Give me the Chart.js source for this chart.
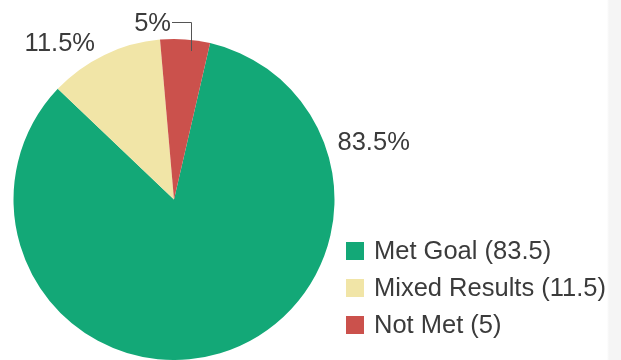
<!DOCTYPE html>
<html>
<head>
<meta charset="utf-8">
<script src="https://cdn.jsdelivr.net/npm/chart.js@4/dist/chart.umd.min.js"></script>
<style>
  html, body { margin: 0; padding: 0; background: #ffffff; }
  #wrap { position: relative; width: 621px; height: 360px; overflow: hidden;
          background: linear-gradient(to right, #ffffff 0, #ffffff 607px, #f5f5f5 609px, #f5f5f5 100%); }
  canvas { display: block; }
</style>
</head>
<body>
<div id="wrap"><canvas id="c" width="621" height="360"></canvas></div>
<script>
// Outcome shares (percent)
const categories = ['Met Goal', 'Mixed Results', 'Not Met'];
const shares = [83.5, 11.5, 5];
const sliceColors = ['#13a877', '#f1e5a7', '#cb514c'];
const valueLabels = ['83.5%', '11.5%', '5%'];

const FONT = '"Liberation Sans", Arial, Helvetica, sans-serif';
const TEXT = '#3b3b3b';

// Percentage labels placed outside each slice, plus a leader line for the small slice
const sliceLabels = {
  id: 'sliceLabels',
  afterDatasetsDraw(chart) {
    const ctx = chart.ctx;
    const arcs = chart.getDatasetMeta(0).data;
    ctx.save();
    ctx.font = '25.5px ' + FONT;
    ctx.fillStyle = TEXT;
    ctx.textBaseline = 'middle';
    arcs.forEach((arc, i) => {
      const p = arc.getProps(['x', 'y', 'outerRadius'], true);
      const r = p.outerRadius;
      if (i === 0) {
        ctx.textAlign = 'left';
        ctx.fillText(valueLabels[i], p.x + r + 3, p.y - 57);
      } else if (i === 1) {
        ctx.textAlign = 'right';
        ctx.fillText(valueLabels[i], p.x - 79, p.y - r + 5);
      } else {
        // leader: from inside the slice straight up, then left to the label
        const lx = Math.round(p.x + 17);
        const topY = Math.round(p.y - r - 17);
        ctx.strokeStyle = '#555555';
        ctx.lineWidth = 1;
        ctx.beginPath();
        ctx.moveTo(lx + 0.5, p.y - r + 12);
        ctx.lineTo(lx + 0.5, topY + 0.5);
        ctx.lineTo(lx - 19, topY + 0.5);
        ctx.stroke();
        ctx.textAlign = 'right';
        ctx.fillText(valueLabels[i], lx - 20, topY + 2);
      }
    });
    ctx.restore();
  }
};

// Legend with square swatches to the right of the pie
const sideLegend = {
  id: 'sideLegend',
  afterDraw(chart) {
    const ctx = chart.ctx;
    const ds = chart.data.datasets[0];
    ctx.save();
    ctx.font = '25.5px ' + FONT;
    ctx.textBaseline = 'middle';
    ctx.textAlign = 'left';
    chart.data.labels.forEach((lab, i) => {
      const cy = 251 + i * 37;
      ctx.fillStyle = ds.backgroundColor[i];
      ctx.fillRect(346, cy - 9, 18, 18);
      ctx.fillStyle = TEXT;
      ctx.fillText(lab + ' (' + ds.data[i] + ')', 374, cy + 1);
    });
    ctx.restore();
  }
};

new Chart(document.getElementById('c'), {
  type: 'pie',
  data: {
    labels: categories,
    datasets: [{
      data: shares,
      backgroundColor: sliceColors,
      borderWidth: 0
    }]
  },
  options: {
    responsive: false,
    animation: false,
    rotation: 13,
    layout: { padding: { left: 13, right: 286, top: 39, bottom: -1 } },
    plugins: {
      legend: { display: false },
      tooltip: { enabled: false }
    }
  },
  plugins: [sliceLabels, sideLegend]
});
</script>
</body>
</html>
